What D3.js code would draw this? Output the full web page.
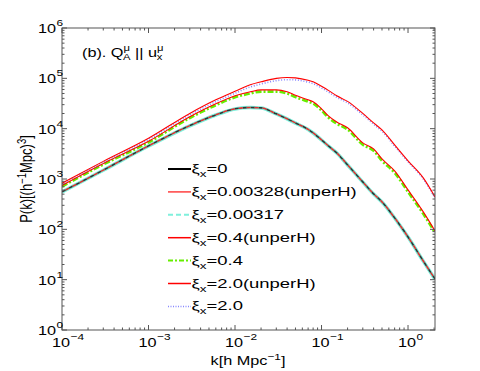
<!DOCTYPE html>
<html>
<head>
<meta charset="utf-8">
<script src="https://cdn.jsdelivr.net/npm/d3@7/dist/d3.min.js"></script>
<style>
  body { margin: 0; background: #fff; }
  text { font-family: "Liberation Sans", Arial, sans-serif; fill: #000; }
</style>
</head>
<body>
<div id="fig"></div>
<script>
// wavenumbers k [h Mpc^-1]
var kVals = [1e-4, 3e-4, 1e-3, 3e-3, 6e-3, 0.01, 0.015, 0.02, 0.03, 0.04, 0.05, 0.07, 0.08, 0.1, 0.12, 0.15, 0.2, 0.3, 0.4, 0.5, 0.7, 1, 1.5, 2.05];

// P(k) for each run
var pXi0      = [555, 1500, 4550, 11500, 18800, 24800, 26300, 25900, 19700, 15700, 13000, 9680, 8260, 5990, 4550, 3300, 1910, 876, 506, 351, 169, 70.6, 23.5, 10.3];
var pXi00328u = [555, 1500, 4550, 11500, 18800, 24800, 26300, 25900, 19700, 15700, 13000, 9680, 8260, 5990, 4550, 3300, 1910, 876, 506, 351, 169, 70.6, 23.5, 10.3];
var pXi00317  = [550, 1490, 4520, 11400, 18700, 24700, 26200, 25800, 19600, 15600, 12900, 9620, 8200, 5950, 4520, 3280, 1900, 870, 503, 349, 168, 70.2, 23.3, 10.2];
var pXi04u    = [746, 2040, 5620, 17200, 31100, 44900, 54000, 59000, 59000, 54000, 45900, 37400, 34100, 24800, 17900, 13600, 10400, 5220, 3960, 2510, 1450, 607, 222, 93];
var pXi04     = [710, 1940, 5350, 16300, 29300, 42000, 50000, 54500, 54500, 50000, 42500, 34500, 31500, 23000, 16600, 12600, 9600, 4800, 3650, 2300, 1330, 555, 203, 86];
var pXi20u    = [826, 2240, 6440, 20100, 37400, 55200, 74300, 85200, 100000, 104000, 102000, 91300, 85200, 69300, 57700, 44900, 34900, 20100, 13000, 9460, 4750, 2290, 1050, 440];
var pXi20     = [800, 2150, 6100, 18800, 34500, 50500, 67500, 77000, 90000, 94000, 93000, 84000, 78500, 64500, 53500, 42000, 32500, 18800, 12300, 8900, 4500, 2200, 1000, 420];

var legendNames = ["0", "0.00328(unperH)", "0.00317", "0.4(unperH)", "0.4", "2.0(unperH)", "2.0"];
var xTickPowers = [-4, -3, -2, -1, 0];
var yTickPowers = [0, 1, 2, 3, 4, 5, 6];

var W = 480, H = 371;
var plot = {left: 62, right: 435, top: 28, bottom: 330};
var SX = 1.25;  // horizontal stretch of the original lettering
var SXL = 1.42; // legend lettering is a bit wider still

var svg = d3.select("#fig").append("svg")
  .attr("width", W).attr("height", H);

var x = d3.scaleLog().domain([1e-4, 2.05]).range([plot.left, plot.right]);
var y = d3.scaleLog().domain([1, 1e6]).range([plot.bottom, plot.top]);

// text helper with the stretched look
function label(g, px, py, anchor, size, sx) {
  return g.append("text")
    .attr("transform", "translate(" + px + "," + py + ") scale(" + (sx || SX) + ",1)")
    .attr("text-anchor", anchor)
    .style("font-size", size + "px");
}

var line = d3.line()
  .x(function(d) { return x(d[0]); })
  .y(function(d) { return y(d[1]); })
  .curve(d3.curveMonotoneX);

function pts(p) { return kVals.map(function(k, i) { return [k, p[i]]; }); }

svg.append("defs").append("clipPath").attr("id", "clip")
  .append("rect").attr("x", plot.left).attr("y", plot.top)
  .attr("width", plot.right - plot.left).attr("height", plot.bottom - plot.top);

var curves = svg.append("g").attr("clip-path", "url(#clip)");

// series styles
var series = [
  {p: pXi00317,  stroke: "#7ff0dc", width: 3.5, dash: null},
  {p: pXi0,      stroke: "#333333", width: 1.6, dash: "4,4", offset: 0},
  {p: pXi00328u, stroke: "#e03030", width: 1.6, dash: "4,4", offset: 4},
  {p: pXi04,     stroke: "#66ee00", width: 2.6, dash: "6,2,2,2"},
  {p: pXi04u,    stroke: "#ff0000", width: 1.1, dash: null},
  {p: pXi20,     stroke: "#8888ff", width: 1.6, dash: "1,1.8"},
  {p: pXi20u,    stroke: "#ff0000", width: 1.1, dash: null}
];

series.forEach(function(s) {
  curves.append("path")
    .datum(pts(s.p))
    .attr("fill", "none")
    .attr("stroke", s.stroke)
    .attr("stroke-width", s.width)
    .attr("stroke-dasharray", s.dash)
    .attr("stroke-dashoffset", s.offset || 0)
    .attr("d", line);
});

// box and ticks (inward, all four sides)
var axisCol = "#555";
var ax = svg.append("g").attr("stroke", axisCol).attr("stroke-width", 1);
ax.append("rect")
  .attr("x", plot.left).attr("y", plot.top)
  .attr("width", plot.right - plot.left).attr("height", plot.bottom - plot.top)
  .attr("fill", "none");

var xMajor = xTickPowers.map(function(p) { return Math.pow(10, p); });
var xMinor = [];
d3.range(-4, 1).forEach(function(p) {
  d3.range(2, 10).forEach(function(m) {
    var v = m * Math.pow(10, p);
    if (v <= 2.05) xMinor.push(v);
  });
});
var yMajor = yTickPowers.map(function(p) { return Math.pow(10, p); });
var yMinor = [];
d3.range(0, 6).forEach(function(p) {
  d3.range(2, 10).forEach(function(m) { yMinor.push(m * Math.pow(10, p)); });
});

function xTicks(vals, len) {
  vals.forEach(function(v) {
    var px = x(v);
    ax.append("line").attr("x1", px).attr("x2", px).attr("y1", plot.bottom).attr("y2", plot.bottom - len);
    ax.append("line").attr("x1", px).attr("x2", px).attr("y1", plot.top).attr("y2", plot.top + len);
  });
}
function yTicks(vals, len) {
  vals.forEach(function(v) {
    var py = y(v);
    ax.append("line").attr("y1", py).attr("y2", py).attr("x1", plot.left).attr("x2", plot.left + len);
    ax.append("line").attr("y1", py).attr("y2", py).attr("x1", plot.right).attr("x2", plot.right - len);
  });
}
xTicks(xMajor, 5); xTicks(xMinor, 2.5);
yTicks(yMajor, 5); yTicks(yMinor, 2.5);

// tick labels
var labels = svg.append("g");
xTickPowers.forEach(function(p) {
  var px = x(Math.pow(10, p));
  label(labels, px - 1, 347, "middle", 13).text("10");
  label(labels, px + 8.5, 340, "start", 9.5).text(p === 0 ? "0" : "\u2212" + Math.abs(p));
});
yTickPowers.forEach(function(p) {
  var py = y(Math.pow(10, p));
  label(labels, 56, py + 5, "end", 13).text("10");
  label(labels, 56.5, py - 2, "start", 9.5).text(p);
});

// axis titles
var xt = label(labels, 248, 365, "middle", 13);
xt.append("tspan").text("k[h Mpc");
xt.append("tspan").attr("dy", -5).style("font-size", "9.5px").text("\u22121");
xt.append("tspan").attr("dy", 5).text("]");

var yt = labels.append("text")
  .attr("transform", "translate(32," + ((plot.top + plot.bottom) / 2) + ") rotate(-90) scale(1," + SX + ")")
  .attr("text-anchor", "middle")
  .style("font-size", "13px");
yt.append("tspan").text("P(k)[(h");
yt.append("tspan").attr("dy", -5).style("font-size", "9.5px").text("\u22121");
yt.append("tspan").attr("dy", 5).text("Mpc)");
yt.append("tspan").attr("dy", -5).style("font-size", "9.5px").text("3");
yt.append("tspan").attr("dy", 5).text("]");

// panel title: (b). Q^mu_A || u^mu_x
var tt = label(labels, 82, 57, "start", 13);
tt.append("tspan").text("(b). Q");
tt.append("tspan").attr("dy", -6).style("font-size", "9px").text("\u03bc");
tt.append("tspan").attr("dx", -5.5).attr("dy", 9).style("font-size", "9px").text("A");
tt.append("tspan").attr("dy", -3).text(" || u");
tt.append("tspan").attr("dy", -6).style("font-size", "9px").text("\u03bc");
tt.append("tspan").attr("dx", -5.5).attr("dy", 9).style("font-size", "9px").text("x");

// legend
var legStyles = [
  {stroke: "#000", width: 2, dash: null},
  {stroke: "#ff4040", width: 1.5, dash: null},
  {stroke: "#7ff0dc", width: 2, dash: "5,3"},
  {stroke: "#ff0000", width: 1.5, dash: null},
  {stroke: "#66ee00", width: 2, dash: "5,2,2,2"},
  {stroke: "#ff0000", width: 1.5, dash: null},
  {stroke: "#8888ff", width: 1.5, dash: "1,1.5"}
];
var leg = svg.append("g");
legendNames.forEach(function(name, i) {
  var ly = 169 + i * 22.9;
  leg.append("line")
    .attr("x1", 168).attr("x2", 191).attr("y1", ly).attr("y2", ly)
    .attr("stroke", legStyles[i].stroke)
    .attr("stroke-width", legStyles[i].width)
    .attr("stroke-dasharray", legStyles[i].dash);
  var t = label(leg, 191.5, ly + 4, "start", 13, SXL);
  t.append("tspan").text("\u03be");
  t.append("tspan").attr("dy", 4).style("font-size", "9.5px").text("x");
  t.append("tspan").attr("dy", -4).text("=" + name);
});
</script>
</body>
</html>
